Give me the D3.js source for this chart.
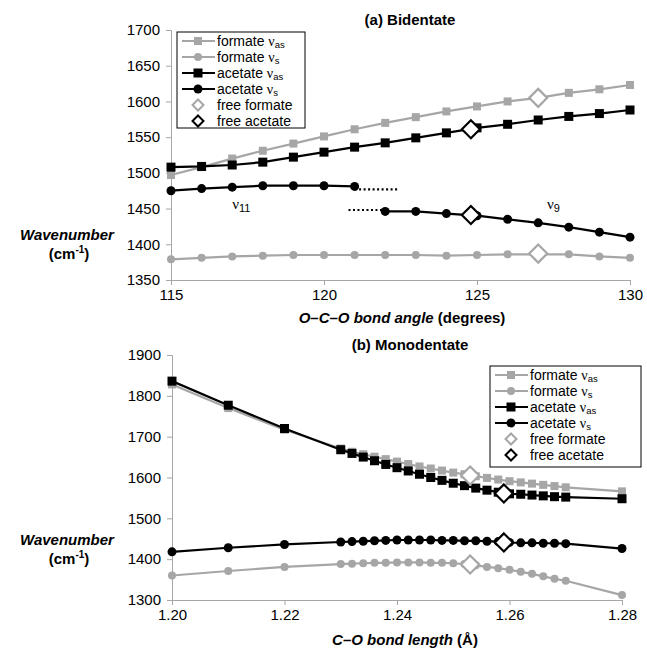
<!DOCTYPE html>
<html>
<head>
<meta charset="utf-8">
<script src="https://cdn.jsdelivr.net/npm/d3@7"></script>
<style>
  body { margin: 0; background: #fff; }
  svg { font-family: "Liberation Sans", Arial, sans-serif; }
  .axis path, .axis line { stroke: #a6a6a6; }
  .axis text { font-size: 15px; fill: #000; font-family: "Liberation Sans", Arial, sans-serif; }
</style>
</head>
<body>
<div id="chart"></div>
<script>
// (a) Bidentate: wavenumber vs O-C-O angle
const angles = [115, 116, 117, 118, 119, 120, 121, 122, 123, 124, 125, 126, 127, 128, 129, 130];
const bidFormateAs = [1497, 1508, 1520, 1531, 1541, 1551, 1561, 1570, 1578, 1586, 1593, 1600, 1605, 1612, 1617, 1623];
const bidFormateS = [1379, 1381, 1383, 1384, 1385, 1385, 1385, 1385, 1385, 1384, 1385, 1386, 1386, 1386, 1383, 1381];
const bidAcetateAs = [1508, 1509, 1511, 1515, 1522, 1529, 1536, 1542, 1549, 1556, 1563, 1568, 1574, 1579, 1583, 1588];
const bidAcetateS11Angles = [115, 116, 117, 118, 119, 120, 121];
const bidAcetateS11 = [1475, 1478, 1480, 1482, 1482, 1482, 1481];
const bidAcetateS9Angles = [122, 123, 124, 125, 126, 127, 128, 129, 130];
const bidAcetateS9 = [1446, 1446, 1443, 1440, 1435, 1430, 1424, 1417, 1410];
const bidDotted11 = [[121, 1477], [122.4, 1477]];
const bidDotted9 = [[120.8, 1448], [122, 1448]];
const bidFreeFormateAngle = 127;
const bidFreeAcetateAngle = 124.8;

// (b) Monodentate: wavenumber vs C-O length
const lengths = [1.20, 1.21, 1.22, 1.23, 1.232, 1.234, 1.236, 1.238, 1.24, 1.242, 1.244, 1.246, 1.248,
  1.25, 1.252, 1.254, 1.256, 1.258, 1.26, 1.262, 1.264, 1.266, 1.268, 1.27, 1.28];
const monoFormateAs = [1828, 1770, 1717, 1671, 1663, 1657, 1651, 1645, 1639, 1633, 1627, 1622, 1617,
  1612, 1608, 1603, 1599, 1595, 1591, 1588, 1585, 1582, 1579, 1576, 1566];
const monoFormateS = [1360, 1371, 1381, 1388, 1389, 1390, 1391, 1391, 1392, 1392, 1392, 1391, 1391,
  1390, 1388, 1385, 1381, 1378, 1374, 1369, 1364, 1358, 1352, 1347, 1312];
const monoAcetateAs = [1836, 1777, 1720, 1668, 1659, 1650, 1641, 1632, 1624, 1616, 1608, 1600, 1593,
  1586, 1580, 1574, 1569, 1564, 1560, 1559, 1557, 1555, 1553, 1552, 1548];
const monoAcetateS = [1418, 1428, 1436, 1442, 1443, 1444, 1445, 1446, 1447, 1447, 1447, 1447, 1446,
  1446, 1445, 1445, 1444, 1443, 1441, 1440, 1440, 1439, 1439, 1438, 1426];
const monoFreeFormateLength = 1.253;
const monoFreeAcetateLength = 1.259;

// free ion frequencies [as, s]
const freeFormate = [1605, 1387];
const freeAcetate = [1561, 1441];

const GREY = "#a6a6a6";
const BLACK = "#000";
const NU_FONT = "'Liberation Serif', 'Times New Roman', serif";

const legendItems = [
  { name: "formate ", sub: "as", colour: GREY, marker: "square", line: true },
  { name: "formate ", sub: "s", colour: GREY, marker: "circle", line: true },
  { name: "acetate ", sub: "as", colour: BLACK, marker: "square", line: true },
  { name: "acetate ", sub: "s", colour: BLACK, marker: "circle", line: true },
  { name: "free formate", sub: null, colour: GREY, marker: "diamond", line: false },
  { name: "free acetate", sub: null, colour: BLACK, marker: "diamond", line: false },
];

const width = 647;
const height = 650;

const svg = d3.select("#chart").append("svg")
  .attr("width", width)
  .attr("height", height);

function drawMarker(g, type, colour, x, y) {
  if (type === "square") {
    const s = colour === GREY ? 8 : 9;
    g.append("rect").attr("x", x - s / 2).attr("y", y - s / 2)
      .attr("width", s).attr("height", s).attr("fill", colour);
  } else if (type === "circle") {
    g.append("circle").attr("cx", x).attr("cy", y).attr("r", colour === GREY ? 4 : 4.5)
      .attr("fill", colour);
  } else {
    const r = 9;
    g.append("path")
      .attr("d", `M${x},${y - r}L${x + r},${y}L${x},${y + r}L${x - r},${y}Z`)
      .attr("fill", "#fff").attr("stroke", colour).attr("stroke-width", 2.2);
  }
}

function drawSeries(g, xs, ys, x, y, colour, marker) {
  const pts = xs.map((d, i) => [x(d), y(ys[i])]);
  g.append("path")
    .attr("d", d3.line()(pts))
    .attr("fill", "none").attr("stroke", colour).attr("stroke-width", 2.2);
  pts.forEach((p) => drawMarker(g, marker, colour, p[0], p[1]));
}

function drawLegend(g, x0, y0, w, h) {
  g.append("rect").attr("x", x0).attr("y", y0).attr("width", w).attr("height", h)
    .attr("fill", "#fff").attr("stroke", "#000").attr("stroke-width", 1);
  legendItems.forEach((d, i) => {
    const cy = y0 + 9 + i * 16;
    if (d.line) {
      g.append("line").attr("x1", x0 + 5).attr("x2", x0 + 38).attr("y1", cy).attr("y2", cy)
        .attr("stroke", d.colour).attr("stroke-width", 2.2);
    }
    if (d.marker === "diamond") {
      const r = 5.5;
      g.append("path")
        .attr("d", `M${x0 + 21},${cy - r}L${x0 + 21 + r},${cy}L${x0 + 21},${cy + r}L${x0 + 21 - r},${cy}Z`)
        .attr("fill", "#fff").attr("stroke", d.colour).attr("stroke-width", 2);
    } else {
      drawMarker(g, d.marker, d.colour, x0 + 21, cy);
    }
    const t = g.append("text").attr("x", x0 + 40).attr("y", cy + 5)
      .style("font-size", "14px");
    t.append("tspan").text(d.name);
    if (d.sub) {
      t.append("tspan").text("ν").style("font-family", NU_FONT).style("font-size", "14px");
      t.append("tspan").text(d.sub).attr("dy", 2).style("font-size", "9.5px");
    }
  });
}

function yTitle(yc) {
  svg.append("text").attr("x", 67).attr("y", yc).attr("text-anchor", "middle")
    .style("font-size", "15px").style("font-weight", "bold").style("font-style", "italic")
    .text("Wavenumber");
  const t = svg.append("text").attr("x", 69).attr("y", yc + 19).attr("text-anchor", "middle")
    .style("font-size", "15px").style("font-weight", "bold");
  t.append("tspan").text("(cm");
  t.append("tspan").text("-1").attr("dy", -6).style("font-size", "10px");
  t.append("tspan").text(")").attr("dy", 6);
}

// ---------- (a) Bidentate ----------
const xA = d3.scaleLinear().domain([115, 130]).range([171, 630]);
const yA = d3.scaleLinear().domain([1350, 1700]).range([280, 30]);
const gA = svg.append("g");

gA.append("g").attr("class", "axis").attr("transform", `translate(0,${yA(1350)})`)
  .call(d3.axisBottom(xA).tickValues([115, 120, 125, 130]).tickFormat(d3.format("d"))
    .tickSizeOuter(0).tickSize(5).tickPadding(4));
gA.append("g").attr("class", "axis").attr("transform", `translate(${xA(115)},0)`)
  .call(d3.axisLeft(yA).tickValues(d3.range(1350, 1701, 50)).tickFormat(d3.format("d"))
    .tickSizeOuter(0).tickSize(5).tickPadding(6));

drawSeries(gA, angles, bidFormateS, xA, yA, GREY, "circle");
drawSeries(gA, angles, bidFormateAs, xA, yA, GREY, "square");
drawSeries(gA, angles, bidAcetateAs, xA, yA, BLACK, "square");
drawSeries(gA, bidAcetateS11Angles, bidAcetateS11, xA, yA, BLACK, "circle");
drawSeries(gA, bidAcetateS9Angles, bidAcetateS9, xA, yA, BLACK, "circle");
[bidDotted11, bidDotted9].forEach((seg) => {
  gA.append("path").attr("d", d3.line()(seg.map((p) => [xA(p[0]), yA(p[1])])))
    .attr("stroke", BLACK).attr("stroke-width", 2.2).attr("stroke-dasharray", "2,2.5").attr("fill", "none");
});
freeFormate.forEach((v) => drawMarker(gA, "diamond", GREY, xA(bidFreeFormateAngle), yA(v)));
freeAcetate.forEach((v) => drawMarker(gA, "diamond", BLACK, xA(bidFreeAcetateAngle), yA(v)));

[[117.3, "11"], [127.5, "9"]].forEach(([a, sub]) => {
  const t = gA.append("text").attr("x", xA(a)).attr("y", yA(1449)).attr("text-anchor", "middle")
    .style("font-size", "14px");
  t.append("tspan").text("ν").style("font-family", NU_FONT).style("font-size", "15px");
  t.append("tspan").text(sub).attr("dy", 3).style("font-size", "11px");
});

svg.append("text").attr("x", 410).attr("y", 25).attr("text-anchor", "middle")
  .style("font-size", "15px").style("font-weight", "bold").text("(a) Bidentate");
drawLegend(svg.append("g"), 177, 32, 128, 96);
yTitle(240);
const tA = svg.append("text").attr("x", 402).attr("y", 323).attr("text-anchor", "middle")
  .style("font-size", "15px").style("font-weight", "bold");
tA.append("tspan").text("O–C–O bond angle").style("font-style", "italic");
tA.append("tspan").text(" (degrees)");

// ---------- (b) Monodentate ----------
const xB = d3.scaleLinear().domain([1.20, 1.28]).range([172, 622]);
const yB = d3.scaleLinear().domain([1300, 1900]).range([600, 355]);
const gB = svg.append("g");

gB.append("g").attr("class", "axis").attr("transform", `translate(0,${yB(1300)})`)
  .call(d3.axisBottom(xB).tickValues([1.20, 1.22, 1.24, 1.26, 1.28]).tickFormat(d3.format(".2f"))
    .tickSizeOuter(0).tickSize(5).tickPadding(4));
gB.append("g").attr("class", "axis").attr("transform", `translate(${xB(1.20)},0)`)
  .call(d3.axisLeft(yB).tickValues(d3.range(1300, 1901, 100)).tickFormat(d3.format("d"))
    .tickSizeOuter(0).tickSize(5).tickPadding(6));

drawSeries(gB, lengths, monoFormateS, xB, yB, GREY, "circle");
drawSeries(gB, lengths, monoAcetateS, xB, yB, BLACK, "circle");
drawSeries(gB, lengths, monoFormateAs, xB, yB, GREY, "square");
drawSeries(gB, lengths, monoAcetateAs, xB, yB, BLACK, "square");
freeFormate.forEach((v) => drawMarker(gB, "diamond", GREY, xB(monoFreeFormateLength), yB(v)));
freeAcetate.forEach((v) => drawMarker(gB, "diamond", BLACK, xB(monoFreeAcetateLength), yB(v)));

svg.append("text").attr("x", 410).attr("y", 350).attr("text-anchor", "middle")
  .style("font-size", "15px").style("font-weight", "bold").text("(b) Monodentate");
drawLegend(svg.append("g"), 490, 366, 151, 101);
yTitle(545);
const tB = svg.append("text").attr("x", 405).attr("y", 645).attr("text-anchor", "middle")
  .style("font-size", "15px").style("font-weight", "bold");
tB.append("tspan").text("C–O bond length").style("font-style", "italic");
tB.append("tspan").text(" (Å)");
</script>
</body>
</html>
